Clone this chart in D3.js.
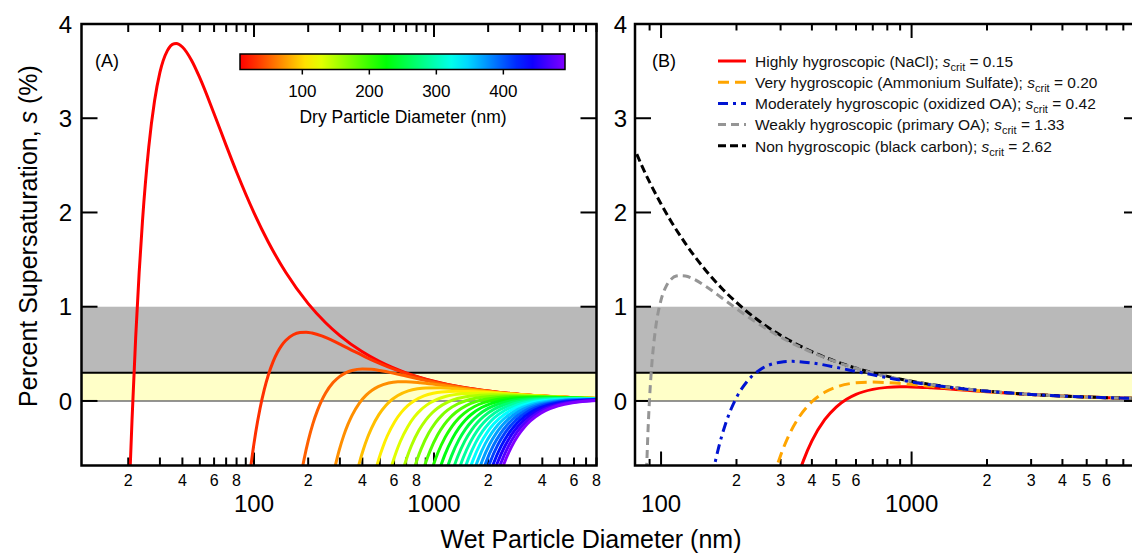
<!DOCTYPE html>
<html lang="en">
<head>
<meta charset="utf-8">
<title>Köhler curves</title>
<script src="https://cdn.jsdelivr.net/npm/d3@7/dist/d3.min.js"></script>
<style>
  html, body { margin: 0; padding: 0; background: #fff; }
  svg { display: block; font-family: "Liberation Sans", Arial, Helvetica, sans-serif; }
</style>
</head>
<body>
<svg id="chart" width="1132" height="554"></svg>
<script>
// ---------- Panel A: one Köhler curve per dry particle diameter ----------
// each curve: [wet diameter (nm), supersaturation (%)]
const dryDiameters = [10, 30, 50, 70, 90, 110, 130, 150, 170, 190, 210, 230, 250,
                      270, 290, 310, 330, 350, 370, 390, 410, 430, 450, 470, 490];

const dry010 = [[20,-1.30],[20.5,-0.716],[21,-0.198],[22,0.672],[23,1.361],[24,1.908],[26,2.690],[28,3.182],[30,3.486],[33,3.717],[36,3.791],[37,3.793],[40,3.756],[45,3.613],[50,3.428],[60,3.048],[70,2.712],[80,2.429],[100,1.996],[120,1.687],[150,1.365],[200,1.033],[250,0.830],[300,0.693],[400,0.521],[500,0.417],[700,0.298],[1000,0.209],[1500,0.139],[2000,0.1045],[3000,0.0697],[4000,0.0522],[6000,0.0348],[8000,0.0261]];
const dry030 = [[90,-1.159],[96,-0.692],[102,-0.343],[108,-0.080],[114,0.120],[120,0.273],[127.5,0.415],[135,0.517],[142.5,0.590],[150,0.641],[165,0.702],[180,0.726],[195,0.730],[210,0.721],[240,0.687],[270,0.645],[300,0.603],[360,0.526],[420,0.463],[510,0.391],[600,0.337],[750,0.273],[900,0.229],[1200,0.173],[1650,0.126],[2250,0.0927],[3000,0.0696],[4200,0.0497],[6000,0.0348],[8000,0.0261]];
const dry050 = [[180,-0.854],[190,-0.613],[200,-0.424],[212.5,-0.241],[225,-0.103],[237.5,0.003],[250,0.084],[275,0.195],[300,0.261],[325,0.301],[350,0.323],[400,0.339],[450,0.336],[500,0.324],[600,0.294],[700,0.264],[850,0.227],[1000,0.197],[1250,0.161],[1500,0.136],[2000,0.103],[2750,0.0754],[3750,0.0555],[5000,0.0417],[8000,0.0261]];
const dry070 = [[280,-0.722],[297.5,-0.522],[315,-0.368],[332.5,-0.249],[350,-0.155],[385,-0.022],[420,0.062],[455,0.117],[490,0.152],[560,0.190],[630,0.203],[700,0.205],[840,0.194],[980,0.179],[1190,0.156],[1400,0.138],[1750,0.113],[2100,0.096],[2800,0.073],[3850,0.0537],[5600,0.0371],[8000,0.0261]];
const dry090 = [[360,-0.888],[382.5,-0.678],[405,-0.516],[427.5,-0.388],[450,-0.288],[495,-0.143],[540,-0.048],[585,0.015],[630,0.058],[720,0.107],[810,0.129],[900,0.138],[1080,0.139],[1260,0.132],[1530,0.117],[1800,0.104],[2250,0.0869],[2700,0.0739],[3600,0.0566],[4950,0.0417],[7200,0.0288],[8000,0.0260]];
const dry110 = [[467.5,-0.777],[495,-0.609],[522.5,-0.477],[550,-0.372],[605,-0.220],[660,-0.119],[715,-0.050],[770,-0.003],[880,0.054],[990,0.082],[1100,0.096],[1320,0.104],[1540,0.101],[1870,0.0926],[2200,0.0833],[2750,0.0700],[3300,0.0599],[4400,0.0460],[6050,0.0340],[8000,0.0259]];
const dry130 = [[552.5,-0.846],[585,-0.674],[617.5,-0.539],[650,-0.430],[715,-0.273],[780,-0.167],[845,-0.095],[910,-0.044],[1040,0.017],[1170,0.050],[1300,0.067],[1560,0.0796],[1820,0.0806],[2210,0.0754],[2600,0.0686],[3250,0.0583],[3900,0.0501],[5200,0.0387],[7150,0.0287],[8000,0.0257]];
const dry150 = [[675,-0.722],[712.5,-0.584],[750,-0.473],[825,-0.312],[900,-0.203],[975,-0.128],[1050,-0.075],[1200,-0.0094],[1350,0.0259],[1500,0.0453],[1800,0.0617],[2100,0.0653],[2550,0.0628],[3000,0.0579],[3750,0.0497],[4500,0.0430],[6000,0.0334],[8000,0.0255]];
const dry170 = [[765,-0.758],[807.5,-0.618],[850,-0.506],[935,-0.341],[1020,-0.230],[1105,-0.153],[1190,-0.098],[1360,-0.0299],[1530,0.0077],[1700,0.0289],[2040,0.0481],[2380,0.0536],[2890,0.0532],[3400,0.0497],[4250,0.0432],[5100,0.0375],[6800,0.0293],[8000,0.0252]];
const dry190 = [[855,-0.787],[902.5,-0.646],[950,-0.532],[1045,-0.365],[1140,-0.252],[1235,-0.173],[1330,-0.117],[1520,-0.0461],[1710,-0.0067],[1900,0.016],[2280,0.0373],[2660,0.0443],[3230,0.0456],[3800,0.0433],[4750,0.0380],[5700,0.0332],[7600,0.0260],[8000,0.0249]];
const dry210 = [[945,-0.810],[997.5,-0.668],[1050,-0.553],[1155,-0.384],[1260,-0.269],[1365,-0.189],[1470,-0.132],[1680,-0.0592],[1890,-0.0184],[2100,0.0055],[2520,0.0285],[2940,0.0368],[3570,0.0394],[4200,0.0380],[5250,0.0338],[6300,0.0297],[8000,0.0244]];
const dry230 = [[1035,-0.830],[1092.5,-0.686],[1150,-0.570],[1265,-0.400],[1380,-0.284],[1495,-0.202],[1610,-0.144],[1840,-0.0700],[2070,-0.0280],[2300,-0.0031],[2760,0.0213],[3220,0.0307],[3910,0.0343],[4600,0.0337],[5750,0.0303],[6900,0.0268],[8000,0.0239]];
const dry250 = [[1187.5,-0.701],[1250,-0.585],[1375,-0.413],[1500,-0.296],[1625,-0.214],[1750,-0.155],[2000,-0.0791],[2250,-0.0361],[2500,-0.0104],[3000,0.0153],[3500,0.0255],[4250,0.0300],[5000,0.0301],[6250,0.0274],[8000,0.0233]];
const dry270 = [[1282.5,-0.714],[1350,-0.597],[1485,-0.424],[1620,-0.306],[1755,-0.223],[1890,-0.163],[2160,-0.0868],[2430,-0.0429],[2700,-0.0166],[3240,0.0101],[3780,0.0210],[4590,0.0264],[5400,0.0270],[6750,0.0249],[8000,0.0225]];
const dry290 = [[1377.5,-0.725],[1450,-0.608],[1595,-0.434],[1740,-0.315],[1885,-0.231],[2030,-0.171],[2320,-0.0935],[2610,-0.0489],[2900,-0.0219],[3480,0.0057],[4060,0.0172],[4930,0.0233],[5800,0.0243],[7250,0.0228],[8000,0.0216]];
const dry310 = [[1472.5,-0.735],[1550,-0.617],[1705,-0.442],[1860,-0.323],[2015,-0.239],[2170,-0.178],[2480,-0.0993],[2790,-0.0540],[3100,-0.0266],[3720,0.0018],[4340,0.0139],[5270,0.0205],[6200,0.0220],[8000,0.0207]];
const dry330 = [[1567.5,-0.744],[1650,-0.625],[1815,-0.450],[1980,-0.330],[2145,-0.245],[2310,-0.184],[2640,-0.104],[2970,-0.0586],[3300,-0.0307],[3960,-0.0016],[4620,0.0110],[5610,0.0181],[6600,0.0199],[8000,0.0195]];
const dry350 = [[1662.5,-0.751],[1750,-0.633],[1925,-0.456],[2100,-0.336],[2275,-0.250],[2450,-0.189],[2800,-0.109],[3150,-0.0626],[3500,-0.0343],[4200,-0.0046],[4900,0.0084],[5950,0.0160],[7000,0.0181],[8000,0.0183]];
const dry370 = [[1757.5,-0.758],[1850,-0.639],[2035,-0.462],[2220,-0.341],[2405,-0.255],[2590,-0.193],[2960,-0.113],[3330,-0.0662],[3700,-0.0375],[4440,-0.0073],[5180,0.0061],[6290,0.0141],[7400,0.0165],[8000,0.0168]];
const dry390 = [[1852.5,-0.764],[1950,-0.645],[2145,-0.468],[2340,-0.346],[2535,-0.260],[2730,-0.197],[3120,-0.117],[3510,-0.0694],[3900,-0.0404],[4680,-0.0097],[5460,0.0040],[6630,0.0124],[7800,0.0150],[8000,0.0152]];
const dry410 = [[1947.5,-0.770],[2050,-0.650],[2255,-0.472],[2460,-0.350],[2665,-0.264],[2870,-0.201],[3280,-0.120],[3690,-0.0723],[4100,-0.0430],[4920,-0.0119],[5740,0.0022],[6970,0.0109],[8000,0.0135]];
const dry430 = [[2042.5,-0.775],[2150,-0.655],[2365,-0.477],[2580,-0.354],[2795,-0.268],[3010,-0.205],[3440,-0.123],[3870,-0.0749],[4300,-0.0454],[5160,-0.0139],[6020,0.0005],[7310,0.0095],[8000,0.0115]];
const dry450 = [[2137.5,-0.779],[2250,-0.659],[2475,-0.481],[2700,-0.358],[2925,-0.271],[3150,-0.208],[3600,-0.126],[4050,-0.0773],[4500,-0.0476],[5400,-0.0157],[6300,-0.0011],[7650,0.0082],[8000,0.0094]];
const dry470 = [[2232.5,-0.783],[2350,-0.663],[2585,-0.484],[2820,-0.361],[3055,-0.274],[3290,-0.211],[3760,-0.128],[4230,-0.0795],[4700,-0.0495],[5640,-0.0173],[6580,-0.0025],[8000,0.0071]];
const dry490 = [[2327.5,-0.787],[2450,-0.667],[2695,-0.487],[2940,-0.364],[3185,-0.277],[3430,-0.213],[3920,-0.130],[4410,-0.0816],[4900,-0.0513],[5880,-0.0189],[6860,-0.0038],[8000,0.0045]];

const panelACurves = [dry010, dry030, dry050, dry070, dry090, dry110, dry130, dry150, dry170,
  dry190, dry210, dry230, dry250, dry270, dry290, dry310, dry330, dry350, dry370, dry390,
  dry410, dry430, dry450, dry470, dry490];

// ---------- Panel B: 80 nm dry particles of different hygroscopicity ----------
const particleTypes = ["Highly hygroscopic (NaCl)", "Very hygroscopic (Ammonium Sulfate)",
  "Moderately hygroscopic (oxidized OA)", "Weakly hygroscopic (primary OA)",
  "Non hygroscopic (black carbon)"];
const sCritValues = ["0.15", "0.20", "0.42", "1.33", "2.62"];

const nacl = [[350,-0.821],[360,-0.721],[370,-0.633],[400,-0.424],[450,-0.199],[500,-0.065],[550,0.018],[600,0.070],[700,0.123],[800,0.144],[900,0.150],[1000,0.149],[1200,0.139],[1500,0.1215],[2000,0.097],[3000,0.0674],[4000,0.0513],[6000,0.0346],[8000,0.0260]];
const ammoniumSulfate = [[280,-0.828],[290,-0.693],[300,-0.578],[320,-0.394],[350,-0.200],[400,-0.009],[450,0.092],[500,0.147],[600,0.192],[700,0.200],[800,0.195],[1000,0.175],[1200,0.155],[1500,0.129],[2000,0.100],[3000,0.0684],[4000,0.0517],[6000,0.0347],[8000,0.0261]];
const oxidizedOA = [[160,-0.803],[163,-0.697],[165,-0.632],[170,-0.488],[180,-0.260],[190,-0.091],[200,0.036],[220,0.204],[250,0.336],[300,0.411],[335,0.420],[400,0.403],[500,0.357],[600,0.313],[700,0.2765],[850,0.2336],[1000,0.2014],[1500,0.1371],[2000,0.1036],[3000,0.0694],[4000,0.0521],[6000,0.0348],[8000,0.0261]];
const primaryOA = [[86,-1.573],[87,-0.987],[87.5,-0.756],[88,-0.555],[89,-0.225],[90,0.034],[92,0.410],[95,0.762],[100,1.072],[105,1.221],[110,1.294],[115,1.325],[120,1.33],[125,1.327],[135,1.293],[150,1.220],[175,1.092],[200,0.979],[250,0.803],[300,0.678],[400,0.515],[500,0.414],[700,0.297],[1000,0.2085],[1500,0.139],[2000,0.1044],[3000,0.0697],[4000,0.0522],[6000,0.0348],[8000,0.0261]];
const blackCarbon = [[80,2.62],[85,2.459],[90,2.322],[100,2.09],[110,1.9],[125,1.672],[150,1.393],[175,1.194],[200,1.045],[250,0.836],[300,0.697],[400,0.5225],[500,0.418],[700,0.2986],[1000,0.209],[1500,0.1393],[2000,0.1045],[3000,0.0697],[4000,0.0523],[6000,0.0348],[8000,0.0261]];

const panelBCurves = [nacl, ammoniumSulfate, oxidizedOA, primaryOA, blackCarbon];

// ---------- axes, bands, colour bar ----------
const yTicks = [0, 1, 2, 3, 4];
const bandLimits = [0, 0.3, 1.0];
const xTicksA = [20,30,40,50,60,70,80,90,100,200,300,400,500,600,700,800,900,1000,2000,3000,4000,5000,6000,7000,8000];
const xMajorA = [100, 1000];
const xLabelsA = [20,40,60,80,200,400,600,800,2000,4000,6000,8000];
const xTicksB = [90,100,200,300,400,500,600,700,800,900,1000,2000,3000,4000,5000,6000,7000,8000];
const xMajorB = [100, 1000];
const xLabelsB = [200,300,400,500,600,2000,3000,4000,5000,6000];
const colorbarTicks = [100, 200, 300, 400];
const colorbarDomain = [7, 492];

// ---------- styles ----------
const seriesStyleB = [
  { color: "#ff0000", dash: null },
  { color: "#ffa500", dash: "11,6" },
  { color: "#0014d2", dash: "10,5,3,5" },
  { color: "#959595", dash: "8,5" },
  { color: "#000000", dash: "8,4" }
];
const drawOrderB = [0, 1, 4, 3, 2];

const svg = d3.select("#chart");
const yTop = 24, yBot = 465.5;
const y = d3.scaleLinear().domain([-0.685, 4]).range([yBot, yTop]);
const xA = d3.scaleLog().domain([11, 8000]).range([81.5, 596.5]);
const xB = d3.scaleLog().domain([78.7, 8160]).range([635, 1140]);

const hue = d3.scaleLinear().domain([10, 490]).range([0, 270]).clamp(true);
const dryColor = d => d3.hsl(hue(d), 1, 0.5).formatHex();

const defs = svg.append("defs");
function addClip(id, x0, x1) {
  defs.append("clipPath").attr("id", id).append("rect")
    .attr("x", x0).attr("y", yTop).attr("width", x1 - x0).attr("height", yBot - yTop);
}
addClip("clipA", 81.5, 596.5);
addClip("clipB", 635, 1140);

function drawBands(g, x0, x1) {
  g.append("rect").attr("x", x0).attr("width", x1 - x0)
    .attr("y", y(bandLimits[2])).attr("height", y(bandLimits[1]) - y(bandLimits[2]))
    .attr("fill", "#b9b9b9");
  g.append("rect").attr("x", x0).attr("width", x1 - x0)
    .attr("y", y(bandLimits[1])).attr("height", y(bandLimits[0]) - y(bandLimits[1]))
    .attr("fill", "#ffffc8");
  g.append("line").attr("x1", x0).attr("x2", x1)
    .attr("y1", y(bandLimits[1])).attr("y2", y(bandLimits[1]))
    .attr("stroke", "#000").attr("stroke-width", 2);
  g.append("line").attr("x1", x0).attr("x2", x1)
    .attr("y1", y(bandLimits[0])).attr("y2", y(bandLimits[0]))
    .attr("stroke", "#707070").attr("stroke-width", 1.5);
}

function drawTicks(g, x, x0, x1, ticks, majors, labels, minorLen, majorLen, yLabelEnd, mirrorRight) {
  const t = g.append("g").attr("stroke", "#000").attr("stroke-width", 2);
  ticks.forEach(v => {
    const len = majors.includes(v) ? majorLen : minorLen;
    const px = x(v);
    t.append("line").attr("x1", px).attr("x2", px).attr("y1", yBot).attr("y2", yBot - len);
    t.append("line").attr("x1", px).attr("x2", px).attr("y1", yTop).attr("y2", yTop + len);
  });
  yTicks.forEach(v => {
    t.append("line").attr("x1", x0).attr("x2", x0 + 16).attr("y1", y(v)).attr("y2", y(v));
    if (mirrorRight)
      t.append("line").attr("x1", x1).attr("x2", x1 - 16).attr("y1", y(v)).attr("y2", y(v));
  });
  // minor decade labels (first digit only) and the decade labels below them
  labels.forEach(v => {
    g.append("text").attr("x", x(v)).attr("y", 486).attr("text-anchor", "middle")
      .attr("font-size", 16).attr("fill", "#000").text(String(v).charAt(0));
  });
  majors.forEach(v => {
    g.append("text").attr("x", x(v)).attr("y", 511.5).attr("text-anchor", "middle")
      .attr("font-size", 24).attr("fill", "#000").text(v);
  });
  yTicks.forEach(v => {
    g.append("text").attr("x", yLabelEnd).attr("y", y(v) + 8.6).attr("text-anchor", "end")
      .attr("font-size", 24).attr("fill", "#000").text(v);
  });
}

const line = x => d3.line().x(d => x(d[0])).y(d => y(d[1])).curve(d3.curveMonotoneX);

// ---------- Panel A ----------
const gA = svg.append("g");
drawBands(gA, 81.5, 596.5);
drawTicks(gA, xA, 81.5, 596.5, xTicksA, xMajorA, xLabelsA, 8, 13, 72, true);
const curvesA = gA.append("g").attr("clip-path", "url(#clipA)");
panelACurves.forEach((c, i) => {
  curvesA.append("path").datum(c).attr("d", line(xA))
    .attr("fill", "none").attr("stroke", dryColor(dryDiameters[i]))
    .attr("stroke-width", 3).attr("stroke-linejoin", "round");
});
gA.append("rect").attr("x", 81.5).attr("y", yTop).attr("width", 515).attr("height", yBot - yTop)
  .attr("fill", "none").attr("stroke", "#000").attr("stroke-width", 2.5);
gA.append("text").attr("x", 95).attr("y", 67).attr("font-size", 18).attr("fill", "#000").text("(A)");

// colour bar
const cb = d3.scaleLinear().domain(colorbarDomain).range([240, 565]);
const grad = defs.append("linearGradient").attr("id", "dryGrad")
  .attr("x1", "0%").attr("x2", "100%").attr("y1", "0%").attr("y2", "0%");
d3.range(0, 1.0001, 0.05).forEach(f => {
  const d = colorbarDomain[0] + f * (colorbarDomain[1] - colorbarDomain[0]);
  grad.append("stop").attr("offset", (f * 100) + "%").attr("stop-color", dryColor(d));
});
gA.append("rect").attr("x", cb(colorbarDomain[0])).attr("y", 54)
  .attr("width", cb(colorbarDomain[1]) - cb(colorbarDomain[0])).attr("height", 15.5)
  .attr("fill", "url(#dryGrad)").attr("stroke", "#000").attr("stroke-width", 1.5);
colorbarTicks.forEach(v => {
  gA.append("line").attr("x1", cb(v)).attr("x2", cb(v)).attr("y1", 69.5).attr("y2", 74.5)
    .attr("stroke", "#000").attr("stroke-width", 1.5);
  gA.append("text").attr("x", cb(v)).attr("y", 96.5).attr("text-anchor", "middle")
    .attr("font-size", 17).attr("fill", "#000").text(v);
});
gA.append("text").attr("x", 403).attr("y", 122.5).attr("text-anchor", "middle")
  .attr("font-size", 17.5).attr("fill", "#000").text("Dry Particle Diameter (nm)");

// ---------- Panel B ----------
const gB = svg.append("g");
drawBands(gB, 635, 1140);
drawTicks(gB, xB, 635, 1140, xTicksB, xMajorB, xLabelsB, 6.5, 14, 627, true);
const curvesB = gB.append("g").attr("clip-path", "url(#clipB)");
drawOrderB.forEach(i => {
  const st = seriesStyleB[i];
  curvesB.append("path").datum(panelBCurves[i]).attr("d", line(xB))
    .attr("fill", "none").attr("stroke", st.color).attr("stroke-width", 3)
    .attr("stroke-dasharray", st.dash);
});
gB.append("rect").attr("x", 635).attr("y", yTop).attr("width", 505).attr("height", yBot - yTop)
  .attr("fill", "none").attr("stroke", "#000").attr("stroke-width", 2.5);
gB.append("text").attr("x", 652).attr("y", 67).attr("font-size", 18).attr("fill", "#000").text("(B)");

// legend
const legend = gB.append("g");
particleTypes.forEach((name, i) => {
  const cy = 61 + i * 21.2;
  const st = seriesStyleB[i];
  legend.append("line").attr("x1", 718).attr("x2", 746).attr("y1", cy).attr("y2", cy)
    .attr("stroke", st.color).attr("stroke-width", 3).attr("stroke-dasharray", st.dash);
  const t = legend.append("text").attr("x", 755).attr("y", cy + 5.7)
    .attr("font-size", 15.5).attr("fill", "#111");
  t.append("tspan").text(name + "; ");
  t.append("tspan").attr("font-style", "italic").text("s");
  t.append("tspan").attr("font-size", 11).attr("dy", 4).text("crit");
  t.append("tspan").attr("dy", -4).text(" = " + sCritValues[i]);
});

// ---------- axis titles ----------
svg.append("text").attr("x", 591).attr("y", 548).attr("text-anchor", "middle")
  .attr("font-size", 25).attr("fill", "#000").text("Wet Particle Diameter (nm)");
const yt = svg.append("text").attr("transform", "translate(37,236) rotate(-90)")
  .attr("text-anchor", "middle").attr("font-size", 25).attr("fill", "#000");
yt.append("tspan").text("Percent Supersaturation, ");
yt.append("tspan").attr("font-style", "italic").text("s");
yt.append("tspan").text(" (%)");
</script>
</body>
</html>
